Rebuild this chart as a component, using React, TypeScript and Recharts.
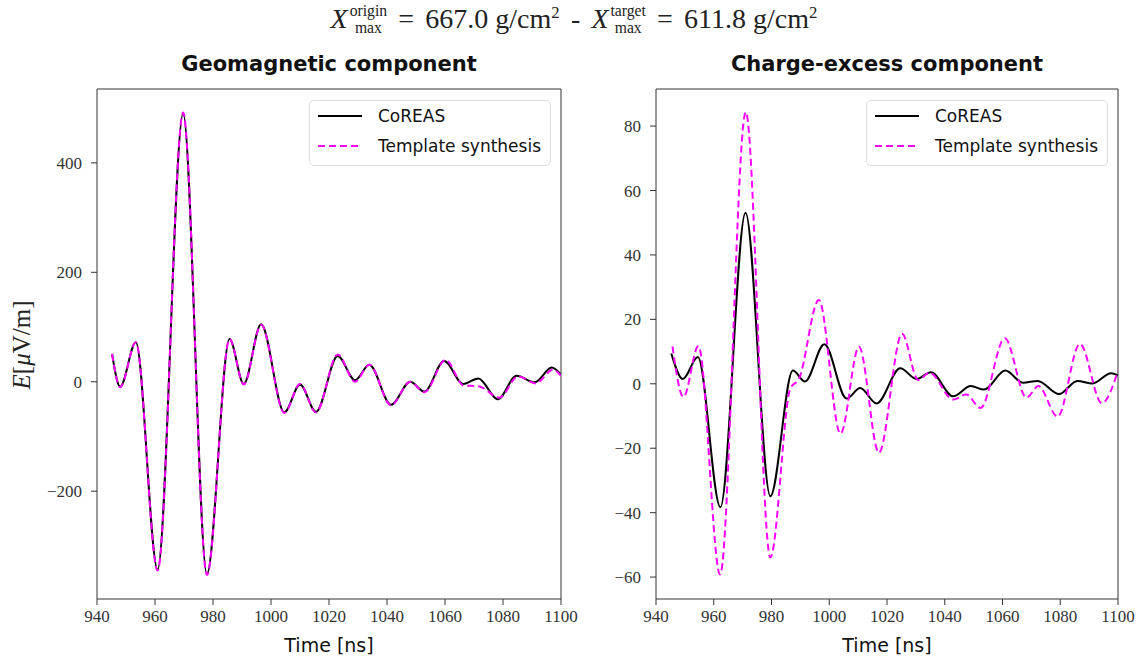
import React from 'react';
import { LineChart, Line, XAxis, YAxis, ReferenceArea } from 'recharts';

const timeTicks = [940, 960, 980, 1000, 1020, 1040, 1060, 1080, 1100];

// Geomagnetic component (uV/m)
const geoCoreasTime = [945.2, 948.0, 953.4, 960.9, 969.7, 977.9, 985.7, 990.6, 996.6, 1004.6, 1010, 1015.5, 1023, 1029, 1033.9, 1041.4, 1048, 1052.9, 1059.7, 1066.3, 1071.5, 1078.2, 1084.7, 1091, 1096.8, 1100];
const geoCoreasE = [51, -9, 72, -343, 490, -351, 78, -4, 105, -56, -5, -55, 47, 3, 31, -42, 0, -18, 38, -4, 6, -32, 11, -1, 26, 13];
const geoTemplateTime = [945.2, 948.0, 953.4, 960.9, 969.7, 977.9, 985.7, 990.6, 996.6, 1004.6, 1010, 1015.5, 1023, 1029, 1033.9, 1041.4, 1048, 1052.9, 1060.2, 1066.5, 1071.5, 1078.8, 1085.2, 1091.3, 1097.2, 1100];
const geoTemplateE = [51, -10, 72, -345, 492, -353, 78, -5, 104, -57, -4, -56, 50, 0, 31, -43, 0, -19, 40, -7, -8, -29, 10, -3, 22, 11];
const geoTicks = [-200, 0, 200, 400];

// Charge-excess component (uV/m)
const ceCoreasTime = [945.3, 949.3, 954.5, 962.3, 971.0, 979.6, 987.4, 991.6, 998.3, 1006.0, 1010.7, 1016.4, 1024.6, 1030.2, 1035.2, 1042.9, 1049, 1053.6, 1061.0, 1067.1, 1072.2, 1079.6, 1085.9, 1091.2, 1097.6, 1100];
const ceCoreasE = [9.4, 1.5, 8.3, -38.3, 53.1, -34.9, 4.1, 0.7, 12.3, -4.6, -1.3, -6.1, 4.8, 1.5, 3.6, -3.9, -0.7, -1.8, 4.1, 0.3, 0.9, -3.2, 0.9, 0.1, 3.3, 2.6];
const ceTemplateTime = [945.7, 949.5, 954.7, 962.2, 971.1, 979.6, 986.5, 989.5, 996.4, 1003.9, 1010.3, 1017.2, 1025.2, 1030.8, 1034.7, 1043.0, 1047.4, 1052.4, 1060.8, 1068.3, 1072.4, 1079.1, 1086.8, 1094.4, 1100];
const ceTemplateE = [11.6, -4.1, 11.7, -59.2, 84.3, -53.9, -1.5, 1.5, 26.0, -15.5, 11.5, -21.4, 15.5, 1.2, 3.4, -4.9, -3.3, -7.5, 14.1, -4.3, -0.7, -10.2, 12.4, -6.0, 4.0];
const ceTicks = [-60, -40, -20, 0, 20, 40, 60, 80];

const toPoints = (ts: number[], vs: number[]) => ts.map((t, i) => ({ t, v: vs[i] }));

const minus = (v: number) => String(v).replace('-', '\u2212');

const tickStyle = { fill: '#333', fontSize: 17, fontFamily: 'Liberation Serif, serif' };
const sans = 'DejaVu Sans, sans-serif';

interface PanelProps {
  left: number;
  width: number;
  yAxisWidth: number;
  marginRight: number;
  yDomain: [number, number];
  yTicks: number[];
  coreas: { t: number; v: number }[];
  template: { t: number; v: number }[];
}

const Panel: React.FC<PanelProps> = ({ left, width, yAxisWidth, marginRight, yDomain, yTicks, coreas, template }) => (
  <div style={{ position: 'absolute', left, top: 0 }}>
    <LineChart width={width} height={671} margin={{ top: 89, right: marginRight, left: 0, bottom: 0 }}>
      <XAxis
        dataKey="t"
        type="number"
        domain={[940, 1100]}
        ticks={timeTicks}
        allowDataOverflow
        height={72}
        tick={tickStyle}
        tickSize={6}
        tickMargin={5}
        axisLine={false}
        tickLine={{ stroke: '#333' }}
      />
      <YAxis
        type="number"
        domain={yDomain}
        ticks={yTicks}
        allowDataOverflow
        width={yAxisWidth}
        tick={tickStyle}
        tickFormatter={minus}
        tickSize={6}
        tickMargin={9}
        axisLine={false}
        tickLine={{ stroke: '#333' }}
      />
      <ReferenceArea x1={940} x2={1100} y1={yDomain[0]} y2={yDomain[1]} fill="none" stroke="#333" strokeWidth={1} />
      <Line data={coreas} dataKey="v" type="monotone" stroke="#000" strokeWidth={2} dot={false} isAnimationActive={false} />
      <Line data={template} dataKey="v" type="monotone" stroke="#ff00ff" strokeWidth={2} strokeDasharray="7 4" dot={false} isAnimationActive={false} />
    </LineChart>
  </div>
);

const LegendBox: React.FC<{ left: number }> = ({ left }) => {
  const row = (top: number, color: string, dash: string | undefined, label: string) => (
    <div style={{ position: 'absolute', left: 8, top: top - 12, height: 24, display: 'flex', alignItems: 'center' }}>
      <svg width={44} height={6} style={{ display: 'block' }}>
        <line x1={0} y1={3} x2={44} y2={3} stroke={color} strokeWidth={2} strokeDasharray={dash} />
      </svg>
      <span style={{ marginLeft: 16, whiteSpace: 'nowrap' }}>{label}</span>
    </div>
  );
  return (
    <div
      style={{
        position: 'absolute',
        left,
        top: 100,
        width: 242,
        height: 66,
        boxSizing: 'border-box',
        border: '1px solid #dcdcdc',
        borderRadius: 5,
        background: 'rgba(255,255,255,0.8)',
        fontFamily: sans,
        fontSize: 17,
        color: '#111',
      }}
    >
      {row(15, '#000', undefined, 'CoREAS')}
      {row(45, '#ff00ff', '7 4', 'Template synthesis')}
    </div>
  );
};

const Xmax: React.FC<{ sup: string }> = ({ sup }) => (
  <span style={{ display: 'inline-flex', alignItems: 'center' }}>
    <i>X</i>
    <span style={{ display: 'inline-flex', flexDirection: 'column', fontSize: '0.56em', lineHeight: 1.1, marginLeft: 2 }}>
      <span>{sup}</span>
      <span>max</span>
    </span>
  </span>
);

const centered = (cx: number, top: number, w: number): React.CSSProperties => ({
  position: 'absolute',
  left: cx - w / 2,
  top,
  width: w,
  textAlign: 'center',
  whiteSpace: 'nowrap',
});

const eq: React.CSSProperties = { margin: '0 0.4em' };

export default function App() {
  return (
    <div style={{ position: 'absolute', left: 0, top: 0, width: 1147, height: 671, background: '#fff', overflow: 'hidden' }}>
      <div
        style={{
          ...centered(574, 1, 720),
          height: 36,
          display: 'flex',
          alignItems: 'center',
          justifyContent: 'center',
          fontFamily: 'Liberation Serif, serif',
          fontSize: 28,
          color: '#222',
        }}
      >
        <Xmax sup="origin" />
        <span style={eq}>=</span>
        <span>667.0 g/cm<sup style={{ fontSize: '0.6em' }}>2</sup></span>
        <span style={eq}>-</span>
        <Xmax sup="target" />
        <span style={eq}>=</span>
        <span>611.8 g/cm<sup style={{ fontSize: '0.6em' }}>2</sup></span>
      </div>

      <div style={{ ...centered(329, 50, 400), fontFamily: sans, fontWeight: 'bold', fontSize: 21, lineHeight: '28px', color: '#111' }}>
        Geomagnetic component
      </div>
      <div style={{ ...centered(887, 50, 400), fontFamily: sans, fontWeight: 'bold', fontSize: 21, lineHeight: '28px', color: '#111' }}>
        Charge-excess component
      </div>

      <Panel
        left={0}
        width={580}
        yAxisWidth={97}
        marginRight={19}
        yDomain={[-397, 535]}
        yTicks={geoTicks}
        coreas={toPoints(geoCoreasTime, geoCoreasE)}
        template={toPoints(geoTemplateTime, geoTemplateE)}
      />
      <Panel
        left={580}
        width={567}
        yAxisWidth={76}
        marginRight={29}
        yDomain={[-66.8, 91.5]}
        yTicks={ceTicks}
        coreas={toPoints(ceCoreasTime, ceCoreasE)}
        template={toPoints(ceTemplateTime, ceTemplateE)}
      />

      <LegendBox left={309} />
      <LegendBox left={866} />

      <div
        style={{
          position: 'absolute',
          left: 22,
          top: 345,
          transform: 'translate(-50%, -50%) rotate(-90deg)',
          whiteSpace: 'nowrap',
          fontFamily: 'Liberation Serif, serif',
          fontSize: 25,
          color: '#222',
        }}
      >
        <i>E</i>[<i>μ</i>V/m]
      </div>

      <div style={{ ...centered(329, 632, 200), fontFamily: sans, fontSize: 19, lineHeight: '26px', color: '#111' }}>Time [ns]</div>
      <div style={{ ...centered(887, 632, 200), fontFamily: sans, fontSize: 19, lineHeight: '26px', color: '#111' }}>Time [ns]</div>
    </div>
  );
}
